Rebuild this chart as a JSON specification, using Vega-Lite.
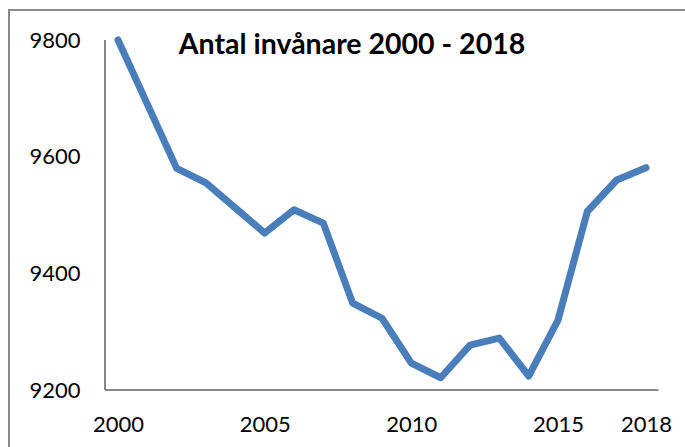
{
  "$schema": "https://vega.github.io/schema/vega-lite/v6.json",
  "autosize": "none",
  "width": 680,
  "height": 441,
  "padding": {"left": 9, "top": 10, "right": -4, "bottom": -4},
  "background": "white",
  "config": {
    "view": {"stroke": "#8a8a8a", "strokeWidth": 2},
    "font": "Lato"
  },
  "title": {
    "text": "Antal invånare 2000 - 2018",
    "font": "Lato",
    "fontSize": 28.5,
    "fontWeight": "bold",
    "color": "black",
    "anchor": "middle",
    "frame": "group",
    "orient": "top",
    "baseline": "alphabetic",
    "offset": -72,
    "dx": 3
  },
  "data": {
    "values": [
      {"year": 2000, "pop": 9800},
      {"year": 2001, "pop": 9690},
      {"year": 2002, "pop": 9580},
      {"year": 2003, "pop": 9555},
      {"year": 2004, "pop": 9512},
      {"year": 2005, "pop": 9469},
      {"year": 2006, "pop": 9509},
      {"year": 2007, "pop": 9486},
      {"year": 2008, "pop": 9349},
      {"year": 2009, "pop": 9323},
      {"year": 2010, "pop": 9246},
      {"year": 2011, "pop": 9221},
      {"year": 2012, "pop": 9277},
      {"year": 2013, "pop": 9289},
      {"year": 2014, "pop": 9224},
      {"year": 2015, "pop": 9320},
      {"year": 2016, "pop": 9506},
      {"year": 2017, "pop": 9560},
      {"year": 2018, "pop": 9581}
    ]
  },
  "encoding": {
    "x": {
      "field": "year",
      "type": "quantitative",
      "scale": {"domain": [1996.284, 2019.466], "nice": false, "zero": false},
      "axis": {
        "values": [2000, 2005, 2010, 2015, 2018],
        "format": "d",
        "title": null,
        "domain": false,
        "ticks": false,
        "tickSize": 0,
        "grid": false,
        "labelPadding": 0,
        "labelBaseline": "middle",
        "offset": -27,
        "labelFont": "Lato",
        "labelFontSize": 22,
        "labelColor": "black",
        "labelFlush": false,
        "labelOverlap": false
      }
    },
    "y": {
      "field": "pop",
      "type": "quantitative",
      "scale": {"domain": [9095.43, 9851.43], "nice": false, "zero": false},
      "axis": {
        "values": [9200, 9400, 9600, 9800],
        "format": "d",
        "title": null,
        "domain": false,
        "ticks": false,
        "tickSize": 0,
        "grid": false,
        "labelPadding": 0,
        "offset": -71,
        "labelFont": "Lato",
        "labelFontSize": 22,
        "labelColor": "black",
        "labelFlush": false,
        "labelOverlap": false
      }
    }
  },
  "layer": [
    {
      "mark": {"type": "rule", "color": "#878787", "strokeWidth": 2},
      "encoding": {
        "x": {"datum": 1999.557},
        "y": {"datum": 9200},
        "y2": {"datum": 9800}
      }
    },
    {
      "mark": {"type": "rule", "color": "#878787", "strokeWidth": 2},
      "encoding": {
        "x": {"datum": 1999.557},
        "x2": {"datum": 2018.41},
        "y": {"datum": 9200}
      }
    },
    {
      "mark": {"type": "line", "color": "#4A7EBB", "strokeWidth": 7, "strokeCap": "round", "strokeJoin": "round"}
    }
  ]
}
